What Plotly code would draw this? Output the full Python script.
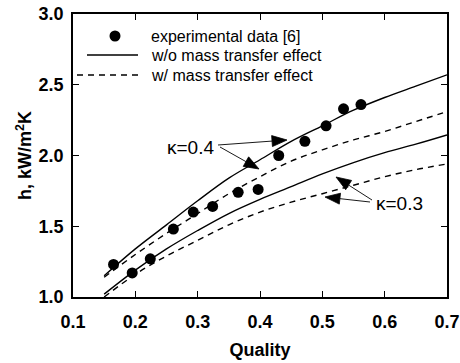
import math
import plotly.graph_objects as go

# experimental data [6]
exp_quality = [0.165, 0.195, 0.224, 0.261, 0.293, 0.324, 0.365, 0.397, 0.430, 0.472, 0.506, 0.534, 0.562]
exp_h = [1.23, 1.17, 1.27, 1.48, 1.60, 1.64, 1.74, 1.76, 2.00, 2.10, 2.21, 2.33, 2.36]

# model curves
model_quality = [0.15, 0.20, 0.25, 0.30, 0.35, 0.40, 0.45, 0.50, 0.55, 0.60, 0.65, 0.70]
h_k04_without = [1.15, 1.34, 1.51, 1.68, 1.84, 1.97, 2.10, 2.21, 2.32, 2.41, 2.49, 2.57]
h_k04_with = [1.14, 1.30, 1.45, 1.59, 1.73, 1.85, 1.96, 2.04, 2.11, 2.17, 2.24, 2.31]
h_k03_without = [1.02, 1.19, 1.34, 1.47, 1.59, 1.69, 1.78, 1.87, 1.95, 2.02, 2.08, 2.145]
h_k03_with = [1.00, 1.16, 1.29, 1.40, 1.51, 1.60, 1.67, 1.73, 1.79, 1.85, 1.90, 1.94]

x_ticks = [0.1, 0.2, 0.3, 0.4, 0.5, 0.6, 0.7]
x_tick_labels = ["0.1", "0.2", "0.3", "0.4", "0.5", "0.6", "0.7"]
y_ticks = [1.0, 1.5, 2.0, 2.5, 3.0]
y_tick_labels = ["1.0", "1.5", "2.0", "2.5", "3.0"]

FONT = "Liberation Sans, Arial, Helvetica, sans-serif"
LW = 1.4
DASH = "6px,5px"

W, H = 460, 363
# plot area in page pixels
L, R, T, B = 73, 447, 14, 297
X0, X1, Y0, Y1 = 0.1, 0.7, 1.0, 3.0


def px2data(px, py):
    return X0 + (px - L) / (R - L) * (X1 - X0), Y0 + (B - py) / (B - T) * (Y1 - Y0)


def px2paper(px, py):
    return (px - L) / (R - L), (B - py) / (B - T)


fig = go.Figure()
for ys, dash in [(h_k04_without, "solid"), (h_k04_with, DASH),
                 (h_k03_without, "solid"), (h_k03_with, DASH)]:
    fig.add_trace(go.Scatter(x=model_quality, y=ys, mode="lines",
                             line=dict(color="black", width=LW, dash=dash, shape="spline"),
                             showlegend=False, hoverinfo="skip"))
fig.add_trace(go.Scatter(x=exp_quality, y=exp_h, mode="markers",
                         marker=dict(color="black", size=11),
                         showlegend=False))

axis_common = dict(showline=True, linecolor="black", linewidth=1.7, mirror="ticks",
                   ticks="inside", ticklen=6, tickwidth=1.3, tickcolor="black",
                   showgrid=False, zeroline=False, automargin=False,
                   tickfont=dict(family=FONT, size=18, color="black", weight="bold"))

fig.update_xaxes(range=[X0, X1], tickvals=x_ticks, ticktext=x_tick_labels,
                 ticklabelstandoff=8,
                 title=dict(text="Quality", standoff=12,
                            font=dict(family=FONT, size=18, color="black", weight="bold")),
                 **axis_common)
fig.update_yaxes(range=[Y0, Y1], tickvals=y_ticks, ticktext=y_tick_labels,
                 ticklabelstandoff=4,
                 title=dict(text="h, kW/m<sup>2</sup>K", standoff=2,
                            font=dict(family=FONT, size=18, color="black", weight="bold")),
                 **axis_common)

annotations = []

# manual legend
shapes = []
cx, cy = px2paper(115, 36)
rx, ry = 5.5 / (R - L), 5.5 / (B - T)
shapes.append(dict(type="circle", xref="paper", yref="paper", x0=cx - rx, x1=cx + rx,
                   y0=cy - ry, y1=cy + ry, fillcolor="black", line=dict(color="black", width=0)))
x0, y0 = px2paper(87, 55)
x1, _ = px2paper(138, 55)
shapes.append(dict(type="line", xref="paper", yref="paper", x0=x0, x1=x1, y0=y0, y1=y0,
                   line=dict(color="black", width=LW)))
x0, y0 = px2paper(77, 75)
x1, _ = px2paper(138, 75)
shapes.append(dict(type="line", xref="paper", yref="paper", x0=x0, x1=x1, y0=y0, y1=y0,
                   line=dict(color="black", width=LW, dash=DASH)))

legend_texts = ["experimental data [6]", "w/o mass transfer effect", "w/ mass transfer effect"]
legend_py = [36, 55, 75]
for t, py in zip(legend_texts, legend_py):
    lx, ly = px2paper(149, py)
    annotations.append(dict(text=t, xref="paper", yref="paper", x=lx, y=ly,
                            xanchor="left", yanchor="middle", showarrow=False,
                            font=dict(family=FONT, size=16, color="black")))

# kappa labels
kx, ky = px2data(190, 147)
annotations.append(dict(text="κ=0.4", x=kx, y=ky, xref="x", yref="y", showarrow=False,
                        font=dict(family=FONT, size=19, color="black")))
kx, ky = px2data(399, 203)
annotations.append(dict(text="κ=0.3", x=kx, y=ky, xref="x", yref="y", showarrow=False,
                        font=dict(family=FONT, size=19, color="black")))

# leader arrows (tail pixel -> tip pixel), drawn as pixel-sized paths anchored at the tip
arrows = [((218, 145), (287, 140)),
          ((220, 147), (259, 169)),
          ((372, 200), (336, 177)),
          ((370, 202), (325, 197))]
HEAD_L, HEAD_W = 15, 5.5
for (tpx, tpy), (hpx, hpy) in arrows:
    ax_, ay_ = px2data(hpx, hpy)
    dx, dy = hpx - tpx, hpy - tpy
    n = math.hypot(dx, dy)
    ux, uy = dx / n, dy / n
    bx, by = -HEAD_L * ux, -HEAD_L * uy
    px_, py_ = -uy * HEAD_W, ux * HEAD_W
    # relative coordinates, y upward
    tail = (tpx - hpx, -(tpy - hpy))
    p1 = (bx + px_, -(by + py_))
    p2 = (bx - px_, -(by - py_))
    shapes.append(dict(type="path", xref="x", yref="y", xsizemode="pixel", ysizemode="pixel",
                       xanchor=ax_, yanchor=ay_,
                       path=f"M{tail[0]:.2f},{tail[1]:.2f} L{bx:.2f},{-by:.2f}",
                       line=dict(color="black", width=0.9)))
    shapes.append(dict(type="path", xref="x", yref="y", xsizemode="pixel", ysizemode="pixel",
                       xanchor=ax_, yanchor=ay_,
                       path=f"M0,0 L{p1[0]:.2f},{p1[1]:.2f} L{p2[0]:.2f},{p2[1]:.2f} Z",
                       fillcolor="black", line=dict(color="black", width=0.8)))

fig.update_layout(width=W, height=H,
                  margin=dict(l=L, r=W - R, t=T, b=H - B),
                  plot_bgcolor="white", paper_bgcolor="white",
                  shapes=shapes, annotations=annotations, showlegend=False)

fig.write_html("out.html", config={"displayModeBar": False},
               post_script="document.body.style.margin='0';document.body.style.overflow='hidden';")
